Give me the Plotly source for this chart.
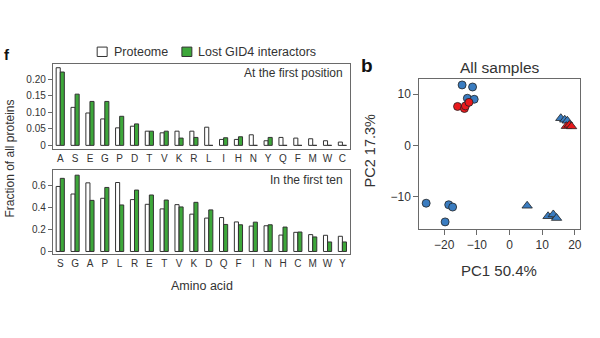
import plotly.graph_objects as go

# ---- Data ----
aa_first = ["A", "S", "E", "G", "P", "D", "T", "V", "K", "R", "L", "I", "H", "N", "Y", "Q", "F", "M", "W", "C"]
proteome_first = [0.235, 0.115, 0.098, 0.080, 0.053, 0.058, 0.043, 0.038, 0.043, 0.043, 0.055, 0.018, 0.018, 0.032, 0.014, 0.024, 0.022, 0.020, 0.014, 0.010]
lost_first = [0.222, 0.155, 0.133, 0.133, 0.088, 0.065, 0.043, 0.043, 0.022, 0.024, 0.0, 0.023, 0.026, 0.0, 0.024, 0.0, 0.0, 0.0, 0.0, 0.0]

aa_ten = ["S", "G", "A", "P", "L", "R", "E", "T", "V", "K", "D", "Q", "F", "I", "N", "H", "C", "M", "W", "Y"]
proteome_ten = [0.594, 0.525, 0.627, 0.486, 0.630, 0.474, 0.431, 0.389, 0.428, 0.341, 0.305, 0.310, 0.270, 0.232, 0.235, 0.150, 0.175, 0.154, 0.148, 0.139]
lost_ten = [0.668, 0.697, 0.467, 0.585, 0.425, 0.561, 0.516, 0.470, 0.407, 0.449, 0.380, 0.247, 0.244, 0.268, 0.244, 0.223, 0.178, 0.133, 0.087, 0.087]

series_names = ["Proteome", "Lost GID4 interactors"]

# PCA scatter
blue_circ_x = [-14.5, -11.3, -12.9, -10.8, -25.5, -18.6, -17.4, -19.7]
blue_circ_y = [11.8, 11.4, 9.2, 9.0, -11.3, -11.6, -12.05, -14.95]
red_circ_x = [-15.9, -13.8, -13.5, -12.4]
red_circ_y = [7.6, 7.2, 7.7, 8.4]
blue_tri_x = [15.7, 16.9, 17.7, 5.4, 11.8, 13.4, 14.4]
blue_tri_y = [5.3, 5.0, 4.8, -11.8, -13.85, -13.5, -14.2]
red_tri_x = [17.4, 18.3, 19.0]
red_tri_y = [3.75, 4.0, 3.7]

W, H = 600, 338
FONT = "Liberation Sans, Arial, sans-serif"
GREEN = "#3da73a"
BLUE = "#3a7cc0"
RED = "#e8191c"
BOX = "#6a6a6a"
TXT = "#333333"

def px(x):
    return x / W

def py(y):
    return 1 - y / H

fig = go.Figure()

bar_line = dict(color="#333", width=1)
fig.add_trace(go.Bar(x=aa_first, y=proteome_first, name=series_names[0], marker=dict(color="white", line=bar_line),
                     xaxis="x", yaxis="y", showlegend=False))
fig.add_trace(go.Bar(x=aa_first, y=lost_first, name=series_names[1], marker=dict(color=GREEN, line=bar_line),
                     xaxis="x", yaxis="y", showlegend=False))
fig.add_trace(go.Bar(x=aa_ten, y=proteome_ten, name=series_names[0], marker=dict(color="white", line=bar_line),
                     xaxis="x2", yaxis="y2", showlegend=False))
fig.add_trace(go.Bar(x=aa_ten, y=lost_ten, name=series_names[1], marker=dict(color=GREEN, line=bar_line),
                     xaxis="x2", yaxis="y2", showlegend=False))

mk_line = dict(color="#222", width=0.8)
fig.add_trace(go.Scatter(x=blue_circ_x, y=blue_circ_y, mode="markers", xaxis="x3", yaxis="y3", showlegend=False,
                         marker=dict(symbol="circle", size=8, color=BLUE, line=mk_line)))
fig.add_trace(go.Scatter(x=red_circ_x, y=red_circ_y, mode="markers", xaxis="x3", yaxis="y3", showlegend=False,
                         marker=dict(symbol="circle", size=8, color=RED, line=mk_line)))
fig.add_trace(go.Scatter(x=blue_tri_x, y=blue_tri_y, mode="markers", xaxis="x3", yaxis="y3", showlegend=False,
                         marker=dict(symbol="triangle-up", size=9, color=BLUE, line=mk_line)))
fig.add_trace(go.Scatter(x=red_tri_x, y=red_tri_y, mode="markers", xaxis="x3", yaxis="y3", showlegend=False,
                         marker=dict(symbol="triangle-up", size=9, color=RED, line=mk_line)))

box_axis = dict(showline=True, linecolor=BOX, linewidth=1, mirror=True, showgrid=False, zeroline=False,
                ticks="outside", ticklen=4, tickcolor=BOX, tickfont=dict(size=10, color=TXT, family=FONT))

fig.update_layout(
    width=W, height=H, margin=dict(l=0, r=0, t=0, b=0),
    plot_bgcolor="white", paper_bgcolor="white",
    font=dict(family=FONT, color=TXT),
    barmode="group", bargap=0.45, bargroupgap=0.0,
    showlegend=False,
    xaxis=dict(box_axis, domain=[px(53), px(351)], anchor="y", range=[-0.5, 19.5], ticks="",
               tickfont=dict(size=10, color=TXT, family=FONT)),
    yaxis=dict(box_axis, domain=[py(150), py(65)], anchor="x", range=[-0.01, 0.245],
               tickvals=[0, 0.05, 0.1, 0.15, 0.2], ticktext=["0", "0.05", "0.10", "0.15", "0.20"]),
    xaxis2=dict(box_axis, domain=[px(53), px(351)], anchor="y2", range=[-0.5, 19.5], ticks="",
                tickfont=dict(size=10, color=TXT, family=FONT)),
    yaxis2=dict(box_axis, domain=[py(256.5), py(172)], anchor="x2", range=[-0.025, 0.74],
                tickvals=[0, 0.2, 0.4, 0.6], ticktext=["0", "0.2", "0.4", "0.6"]),
    xaxis3=dict(box_axis, domain=[px(420.7), px(581.7)], anchor="y3", range=[-27.6, 21.5],
                tickvals=[-20, -10, 0, 10, 20], ticktext=["\u221220", "\u221210", "0", "10", "20"],
                tickfont=dict(size=12, color=TXT, family=FONT), ticklen=5),
    yaxis3=dict(box_axis, domain=[py(230.7), py(79.3)], anchor="x3", range=[-16.27, 13.04],
                tickvals=[-10, 0, 10], ticktext=["\u221210", "0", "10"],
                tickfont=dict(size=12, color=TXT, family=FONT), ticklen=5),
)

# manual legend (paper coordinates)
shapes = [
    dict(type="rect", xref="paper", yref="paper", x0=px(97.5), x1=px(107.5), y0=py(57), y1=py(47.5),
         fillcolor="white", line=dict(color="#333", width=1)),
    dict(type="rect", xref="paper", yref="paper", x0=px(182.5), x1=px(192.5), y0=py(57), y1=py(47.5),
         fillcolor=GREEN, line=dict(color="#333", width=1)),
]
fig.update_layout(shapes=shapes)

ann = [
    dict(text=series_names[0], x=px(112), y=py(52.5), xanchor="left", yanchor="middle", font=dict(size=12.5, color=TXT)),
    dict(text=series_names[1], x=px(197), y=py(52.5), xanchor="left", yanchor="middle", font=dict(size=12.5, color=TXT)),
    dict(text="<b>f</b>", x=px(2), y=py(55), xanchor="left", yanchor="middle", font=dict(size=15, color="#111")),
    dict(text="<b>b</b>", x=px(360), y=py(66), xanchor="left", yanchor="middle", font=dict(size=19, color="#111")),
    dict(text="At the first position", x=px(346), y=py(74), xanchor="right", yanchor="middle", font=dict(size=12, color=TXT)),
    dict(text="In the first ten", x=px(346), y=py(182), xanchor="right", yanchor="middle", font=dict(size=12, color=TXT)),
    dict(text="Amino acid", x=px(203), y=py(289), xanchor="center", yanchor="middle", font=dict(size=12.5, color=TXT)),
    dict(text="Fraction of all proteins", x=px(10), y=py(160), xanchor="center", yanchor="middle", textangle=-90,
         font=dict(size=12, color=TXT)),
    dict(text="All samples", x=px(501), y=py(68), xanchor="center", yanchor="middle", font=dict(size=15.5, color=TXT)),
    dict(text="PC1 50.4%", x=px(501), y=py(273), xanchor="center", yanchor="middle", font=dict(size=15, color=TXT)),
    dict(text="PC2 17.3%", x=px(371), y=py(152), xanchor="center", yanchor="middle", textangle=-90, font=dict(size=14.5, color=TXT)),
]
for a in ann:
    a.update(xref="paper", yref="paper", showarrow=False)
    a["font"]["family"] = FONT
fig.update_layout(annotations=ann)

fig.write_html("out.html")
